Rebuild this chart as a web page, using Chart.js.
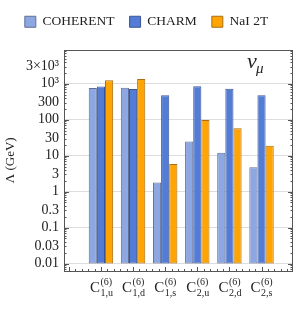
<!DOCTYPE html>
<html>
<head>
<meta charset="utf-8">
<script src="https://cdn.jsdelivr.net/npm/chart.js@4.4.0/dist/chart.umd.min.js"></script>
<style>
  html, body { margin: 0; padding: 0; background: #fff; }
  #wrap { width: 298px; height: 320px; }
</style>
</head>
<body>
<div id="wrap"><canvas id="myChart" width="298" height="320"></canvas></div>
<script>
'use strict';
// operator labels: C^(6)_{sub}
let operators = ['1,u', '1,d', '1,s', '2,u', '2,d', '2,s'];
let seriesNames = ['COHERENT', 'CHARM', 'NaI 2T'];
let coherent = [760, 780, 1.8, 25, 12, 4.8];
let charm = [840, 720, 480, 860, 730, 480];
let nai = [1250, 1350, 5.9, 98, 58, 19];
let yTicks = [0.01, 0.03, 0.1, 0.3, 1, 3, 10, 30, 100, 300, 1000, 3000];
let yLabels = ['0.01', '0.03', '0.1', '0.3', '1', '3', '10', '30', '100', '300', '10³', '3×10³'];
let barBase = 0.01;

let fills = ['rgb(141,167,226)', 'rgb(82,124,214)', 'rgb(255,164,0)'];
let edges = ['rgb(95,110,150)', 'rgb(60,85,150)', 'rgb(170,110,20)'];
let serif = '"Liberation Serif", "DejaVu Serif", serif';

function makeData(values) {
    let out = [];
    for (let i = 0; i < values.length; i++) {
        out.push({ x: i + 1, y: [barBase, values[i]] });
    }
    return out;
}

let allSeries = [coherent, charm, nai];
let datasets = [];
for (let i = 0; i < allSeries.length; i++) {
    datasets.push({
        label: seriesNames[i],
        data: makeData(allSeries[i]),
        backgroundColor: fills[i],
        borderColor: edges[i],
        borderWidth: 1,
        borderSkipped: false,
        categoryPercentage: 0.76,
        barPercentage: 1
    });
}

// more room under the legend
let legendGap = {
    id: 'legendGap',
    afterInit(chart) {
        let orig = chart.legend.fit;
        chart.legend.fit = function () {
            orig.call(this);
            this.height += 11;
        };
    }
};

// frame, inward ticks, x labels and the nu_mu tag
let extras = {
    id: 'extras',
    afterDraw(chart) {
        let ctx = chart.ctx;
        let a = chart.chartArea;
        let ys = chart.scales.y;
        let xs = chart.scales.x;
        ctx.save();
        ctx.strokeStyle = '#555';
        ctx.lineWidth = 1;
        ctx.strokeRect(Math.round(a.left) + 0.5, Math.round(a.top) + 0.5,
            Math.round(a.right - a.left) - 1, Math.round(a.bottom - a.top) - 1);

        // y ticks, both sides
        ctx.beginPath();
        for (let e = -3; e <= 4; e++) {
            for (let m = 1; m <= 9; m++) {
                let v = m * Math.pow(10, e);
                if (v < ys.min || v > ys.max) continue;
                let py = Math.round(ys.getPixelForValue(v)) + 0.5;
                let len = m === 1 ? 5 : 2.5;
                ctx.moveTo(a.left, py); ctx.lineTo(a.left + len, py);
                ctx.moveTo(a.right, py); ctx.lineTo(a.right - len, py);
            }
        }
        // x minor ticks along the bottom
        for (let t = 0; t <= 35; t++) {
            let v = t * 0.2;
            if (v < xs.min || v > xs.max) continue;
            let px = Math.round(xs.getPixelForValue(v)) + 0.5;
            let len = (t % 5 === 0) ? 4 : 2;
            ctx.moveTo(px, a.bottom); ctx.lineTo(px, a.bottom - len);
        }
        ctx.stroke();

        // x labels
        ctx.fillStyle = '#222';
        ctx.textBaseline = 'alphabetic';
        ctx.textAlign = 'left';
        for (let i = 0; i < operators.length; i++) {
            let px = xs.getPixelForValue(i + 1);
            ctx.font = '15px ' + serif;
            ctx.fillText('C', px - 11, 292);
            ctx.font = '10px ' + serif;
            ctx.fillText('(6)', px - 0.5, 284.5);
            ctx.fillText(operators[i], px - 0.5, 296);
        }

        // nu_mu
        ctx.font = 'italic 22px ' + serif;
        ctx.fillText('ν', 247, 68);
        ctx.font = 'italic 15px ' + serif;
        ctx.fillText('μ', 256, 73);
        ctx.restore();
    }
};

let ctx = document.getElementById('myChart').getContext('2d');
let myChart = new Chart(ctx, {
    type: 'bar',
    data: { datasets: datasets },
    options: {
        responsive: false,
        animation: false,
        devicePixelRatio: 1,
        layout: { padding: { left: 0, right: 5, top: 0, bottom: 0 } },
        plugins: {
            legend: {
                position: 'top',
                labels: {
                    font: { family: serif, size: 13.5 },
                    color: '#222',
                    boxWidth: 11,
                    boxHeight: 11,
                    padding: 15,
                    generateLabels(chart) {
                        return chart.data.datasets.map(function (d, i) {
                            return {
                                text: d.label,
                                fillStyle: d.backgroundColor,
                                strokeStyle: d.borderColor,
                                lineWidth: 1,
                                datasetIndex: i,
                                fontColor: '#222'
                            };
                        });
                    }
                }
            },
            tooltip: { enabled: false }
        },
        scales: {
            x: {
                type: 'linear',
                min: -0.15,
                max: 6.98,
                offset: false,
                grid: { display: false, drawTicks: false },
                border: { display: false },
                ticks: { display: false },
                afterFit(scale) { scale.height = 49; }
            },
            y: {
                type: 'logarithmic',
                min: 0.0062,
                max: 9000,
                grid: {
                    color: '#ddd',
                    drawTicks: false,
                    lineWidth(c) {
                        let v = c.tick ? c.tick.value : 0;
                        let l = Math.log10(v);
                        return Math.abs(l - Math.round(l)) < 1e-6 ? 1 : 0;
                    }
                },
                border: { display: false },
                afterBuildTicks(scale) {
                    scale.ticks = yTicks.map(function (v) { return { value: v }; });
                },
                ticks: {
                    autoSkip: false,
                    padding: 5,
                    color: '#222',
                    font: { family: serif, size: 14 },
                    callback(value) {
                        let i = yTicks.indexOf(value);
                        return i >= 0 ? yLabels[i] : '';
                    }
                },
                title: {
                    display: true,
                    text: 'Λ (GeV)',
                    color: '#222',
                    font: { family: serif, size: 13 },
                    padding: { top: 3, bottom: 0 }
                },
                afterFit(scale) { scale.width = 64; }
            }
        }
    },
    plugins: [legendGap, extras]
});
</script>
</body>
</html>
